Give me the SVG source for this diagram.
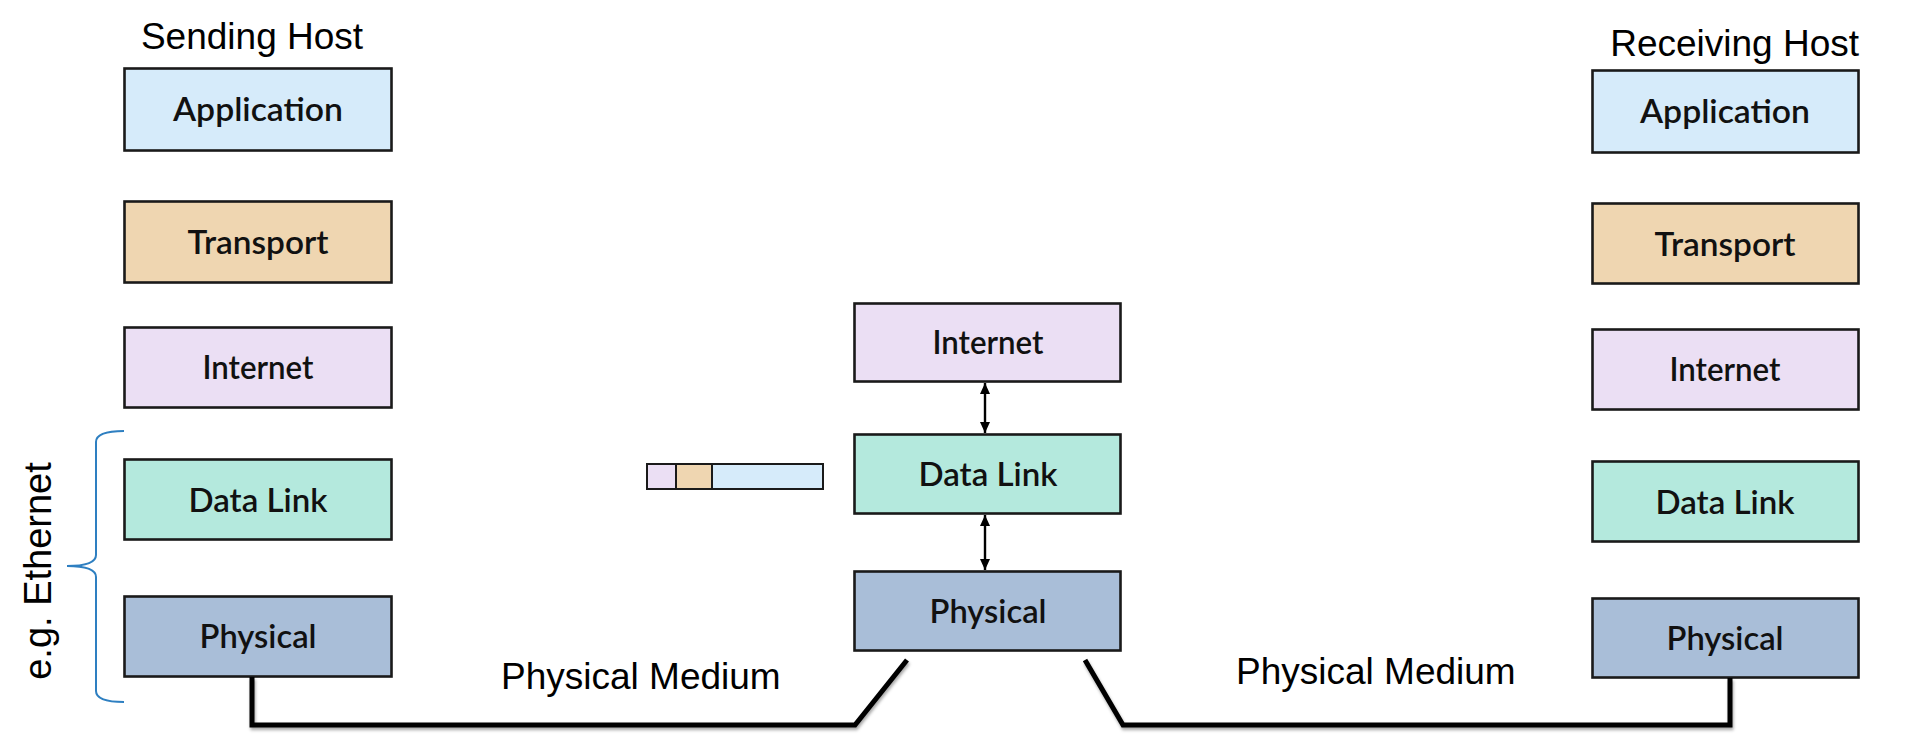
<svg xmlns="http://www.w3.org/2000/svg" width="1918" height="745" viewBox="0 0 1918 745">
<style>
.box{stroke:#1a1a1a;stroke-width:2.6}
.app{fill:#D6EBFA}.tra{fill:#EFD6B1}.int{fill:#EBDFF4}.dl{fill:#B4E9DD}.phy{fill:#A9BED8}
.lbl{font-family:Lato,"Liberation Sans",sans-serif;font-size:33px;font-weight:600;fill:#111;text-anchor:middle}
.ttl{font-family:"Liberation Sans",Arial,sans-serif;font-size:37px;fill:#000}
.wire{fill:none;stroke:#000;stroke-width:5;stroke-linejoin:miter}
.arr{stroke:#000;stroke-width:2.4;marker-start:url(#ah);marker-end:url(#ah)}
</style>
<defs>
<marker id="ah" viewBox="0 0 11 11" refX="11" refY="5.5" markerWidth="11" markerHeight="11" markerUnits="userSpaceOnUse" orient="auto-start-reverse">
<path d="M0,0.5 L11,5.5 L0,10.5 Z" fill="#000"/>
</marker>
<filter id="sh" x="-5%" y="-20%" width="110%" height="160%">
<feDropShadow dx="1" dy="2.5" stdDeviation="1.5" flood-color="#000" flood-opacity="0.35"/>
</filter>
</defs>
<rect width="1918" height="745" fill="#fff"/>

<text class="ttl" x="252" y="49" text-anchor="middle">Sending Host</text>
<text class="ttl" x="1859" y="56" text-anchor="end">Receiving Host</text>

<g id="s-app"><rect class="box app" x="124.5" y="68.5" width="267" height="82"/><text class="lbl" x="258" y="121" textLength="170" lengthAdjust="spacingAndGlyphs">Application</text></g>
<g id="s-tra"><rect class="box tra" x="124.5" y="201.5" width="267" height="81"/><text class="lbl" x="258" y="254" textLength="141" lengthAdjust="spacingAndGlyphs">Transport</text></g>
<g id="s-int"><rect class="box int" x="124.5" y="327.5" width="267" height="80"/><text class="lbl" x="258" y="379" textLength="111" lengthAdjust="spacingAndGlyphs">Internet</text></g>
<g id="s-dl"><rect class="box dl" x="124.5" y="459.5" width="267" height="80"/><text class="lbl" x="258" y="512" textLength="139" lengthAdjust="spacingAndGlyphs">Data Link</text></g>
<g id="s-phy"><rect class="box phy" x="124.5" y="596.5" width="267" height="80"/><text class="lbl" x="258" y="648" textLength="117" lengthAdjust="spacingAndGlyphs">Physical</text></g>

<g id="m-int"><rect class="box int" x="854.5" y="303.5" width="266" height="78"/><text class="lbl" x="988" y="354" textLength="111" lengthAdjust="spacingAndGlyphs">Internet</text></g>
<g id="m-dl"><rect class="box dl" x="854.5" y="434.5" width="266" height="79"/><text class="lbl" x="988" y="486" textLength="139" lengthAdjust="spacingAndGlyphs">Data Link</text></g>
<g id="m-phy"><rect class="box phy" x="854.5" y="571.5" width="266" height="79"/><text class="lbl" x="988" y="623" textLength="117" lengthAdjust="spacingAndGlyphs">Physical</text></g>

<g id="r-app"><rect class="box app" x="1592.5" y="70.5" width="266" height="82"/><text class="lbl" x="1725" y="123" textLength="170" lengthAdjust="spacingAndGlyphs">Application</text></g>
<g id="r-tra"><rect class="box tra" x="1592.5" y="203.5" width="266" height="80"/><text class="lbl" x="1725" y="256" textLength="141" lengthAdjust="spacingAndGlyphs">Transport</text></g>
<g id="r-int"><rect class="box int" x="1592.5" y="329.5" width="266" height="80"/><text class="lbl" x="1725" y="381" textLength="111" lengthAdjust="spacingAndGlyphs">Internet</text></g>
<g id="r-dl"><rect class="box dl" x="1592.5" y="461.5" width="266" height="80"/><text class="lbl" x="1725" y="514" textLength="139" lengthAdjust="spacingAndGlyphs">Data Link</text></g>
<g id="r-phy"><rect class="box phy" x="1592.5" y="598.5" width="266" height="79"/><text class="lbl" x="1725" y="650" textLength="117" lengthAdjust="spacingAndGlyphs">Physical</text></g>

<g id="packet">
<rect x="647" y="464" width="29" height="25" fill="#EBDFF4" stroke="#1a1a1a" stroke-width="2"/>
<rect x="676" y="464" width="36" height="25" fill="#EFD6B1" stroke="#1a1a1a" stroke-width="2"/>
<rect x="712" y="464" width="111" height="25" fill="#D6EBFA" stroke="#1a1a1a" stroke-width="2"/>
</g>

<g id="brace">
<path d="M124,431 Q96,431 96,442 L96,555 Q96,566 67,566 Q96,566 96,577 L96,691 Q96,702 124,702" fill="none" stroke="#2E7FC1" stroke-width="2"/>
<text x="51" y="571" transform="rotate(-90 51 571)" class="ttl" style="font-size:38px" text-anchor="middle">e.g. Ethernet</text>
</g>

<g id="connectors">
<line class="arr" x1="985" y1="383" x2="985" y2="433"/>
<line class="arr" x1="985" y1="515" x2="985" y2="570"/>
<path class="wire" filter="url(#sh)" d="M252,677 L252,725 L855,725 L907,660"/>
<path class="wire" filter="url(#sh)" d="M1085,660 L1123,725 L1730,725 L1730,678"/>
</g>

<text class="ttl" x="501" y="689">Physical Medium</text>
<text class="ttl" x="1236" y="684">Physical Medium</text>
</svg>
